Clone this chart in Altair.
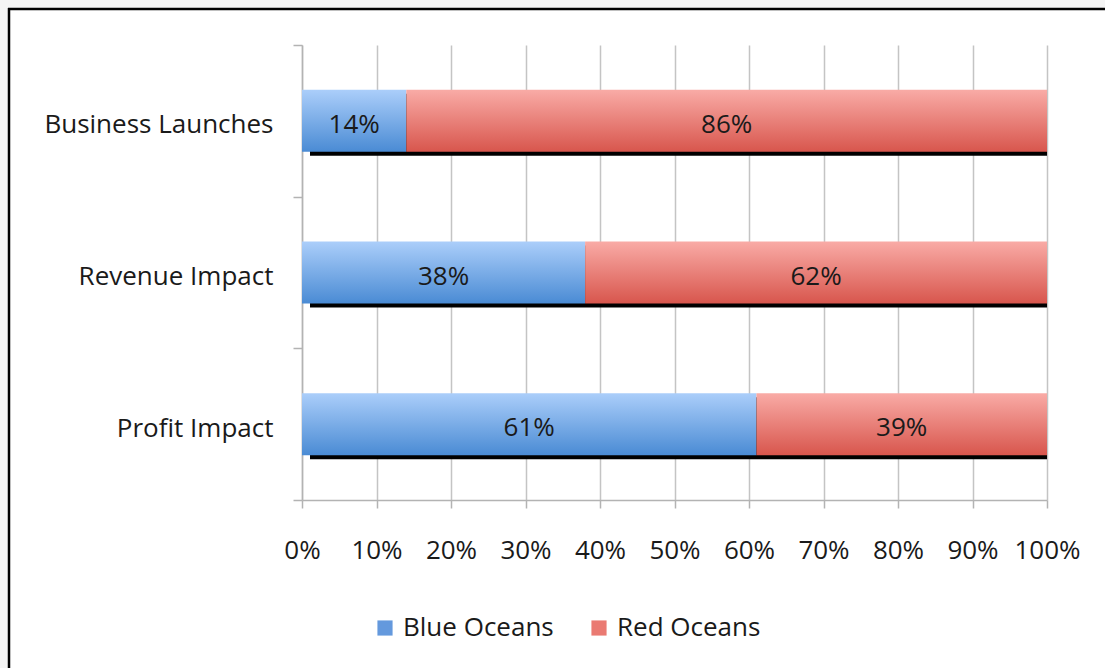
import altair as alt
import pandas as pd

categories = ["Business Launches", "Revenue Impact", "Profit Impact"]
blue_values = [14, 38, 61]
red_values = [86, 62, 39]
series_names = ["Blue Oceans", "Red Oceans"]
x_ticks = [0, 10, 20, 30, 40, 50, 60, 70, 80, 90, 100]

df = pd.DataFrame({"category": categories, "blue": blue_values, "red": red_values})
legend_df = pd.DataFrame({"series": series_names})

FONT = "Open Sans"
TXT = "#1a1a1a"
FS = 26

blue_grad = alt.LinearGradient(
    gradient="linear", x1=0, x2=0, y1=0, y2=1,
    stops=[alt.GradientStop(color="#abcefa", offset=0),
           alt.GradientStop(color="#4a8bd4", offset=1)])
red_grad = alt.LinearGradient(
    gradient="linear", x1=0, x2=0, y1=0, y2=1,
    stops=[alt.GradientStop(color="#f9aba6", offset=0),
           alt.GradientStop(color="#d8564d", offset=1)])

base = alt.Chart(df).transform_calculate(
    total="datum.blue + datum.red",
    zero="0",
    red_mid="datum.blue + datum.red / 2",
    blue_mid="datum.blue / 2",
    blue_label="datum.blue + '%'",
    red_label="datum.red + '%'",
)

y_enc = alt.Y(
    "category:N", sort=categories, title=None,
    scale=alt.Scale(paddingInner=0, paddingOuter=0),
    axis=alt.Axis(tickBand="extent", domainColor="#b3b3b3", tickColor="#b3b3b3",
                  tickSize=9, labelPadding=20, labelFont=FONT, labelFontSize=FS,
                  labelColor=TXT, grid=False, domainWidth=1.5, tickWidth=1.5,
                  labelLimit=0, labelOffset=4),
)
x_scale = alt.Scale(domain=[0, 100], nice=False)
x_axis = alt.Axis(values=x_ticks, labelExpr="datum.value + '%'", grid=True,
                  gridColor="#c4c4c4", gridWidth=1.5, domainColor="#b3b3b3",
                  domainWidth=1.5, tickColor="#b3b3b3", tickWidth=1.5, tickSize=8,
                  labelPadding=29, labelFont=FONT, labelFontSize=FS, labelColor=TXT,
                  labelOverlap=False, labelFlush=False, title=None)

one = pd.DataFrame({"a": [0]})
gray_left = alt.Chart(one).mark_rect(fill="#f4f4f4", stroke=None).encode(
    x=alt.value(-302), x2=alt.value(-294), y=alt.value(-45), y2=alt.value(623))
gray_top = alt.Chart(one).mark_rect(fill="#f4f4f4", stroke=None).encode(
    x=alt.value(-302), x2=alt.value(803), y=alt.value(-45), y2=alt.value(-37))
frame_left = alt.Chart(one).mark_rule(color="black", strokeWidth=2.5).encode(
    x=alt.value(-293), y=alt.value(-37), y2=alt.value(630))
frame_top = alt.Chart(one).mark_rule(color="black", strokeWidth=2.5).encode(
    y=alt.value(-36), x=alt.value(-294), x2=alt.value(810))

shadow = base.mark_bar(color="black", size=62, xOffset=8, yOffset=4).encode(
    x=alt.X("zero:Q", scale=x_scale, axis=x_axis), x2="total:Q", y=y_enc)
blue_bar = base.mark_bar(color=blue_grad, size=62).encode(
    x=alt.X("zero:Q", scale=x_scale, axis=x_axis), x2="blue:Q", y=y_enc)
red_bar = base.mark_bar(color=red_grad, size=62).encode(
    x=alt.X("blue:Q", scale=x_scale, axis=x_axis), x2="total:Q", y=y_enc)
blue_text = base.mark_text(font=FONT, fontSize=FS, color=TXT, dy=4).encode(
    x=alt.X("blue_mid:Q", scale=x_scale), y=y_enc, text="blue_label:N")
red_text = base.mark_text(font=FONT, fontSize=FS, color=TXT, dy=4).encode(
    x=alt.X("red_mid:Q", scale=x_scale), y=y_enc, text="red_label:N")

legend_layer = alt.Chart(legend_df).mark_square(opacity=0).encode(
    fill=alt.Fill("series:N", sort=series_names,
                  scale=alt.Scale(domain=series_names, range=["#6499dd", "#ea7a72"]),
                  legend=alt.Legend(orient="none", legendX=70, legendY=570,
                                    direction="horizontal", title=None,
                                    symbolType="square", symbolSize=230,
                                    symbolOpacity=1, symbolStrokeWidth=0,
                                    labelFont=FONT, labelFontSize=FS, labelColor=TXT,
                                    labelOffset=5, columnPadding=32)),
)

chart = alt.layer(gray_left, gray_top, frame_left, frame_top, shadow, blue_bar, red_bar,
                  blue_text, red_text, legend_layer).properties(
    width=745, height=455,
    autosize=alt.AutoSizeParams(type="none"),
    padding={"left": 302, "top": 45, "right": 58, "bottom": 168},
    background="white",
).configure_view(stroke=None)

chart.save("out.html", embed_options={"renderer": "svg", "actions": False})
